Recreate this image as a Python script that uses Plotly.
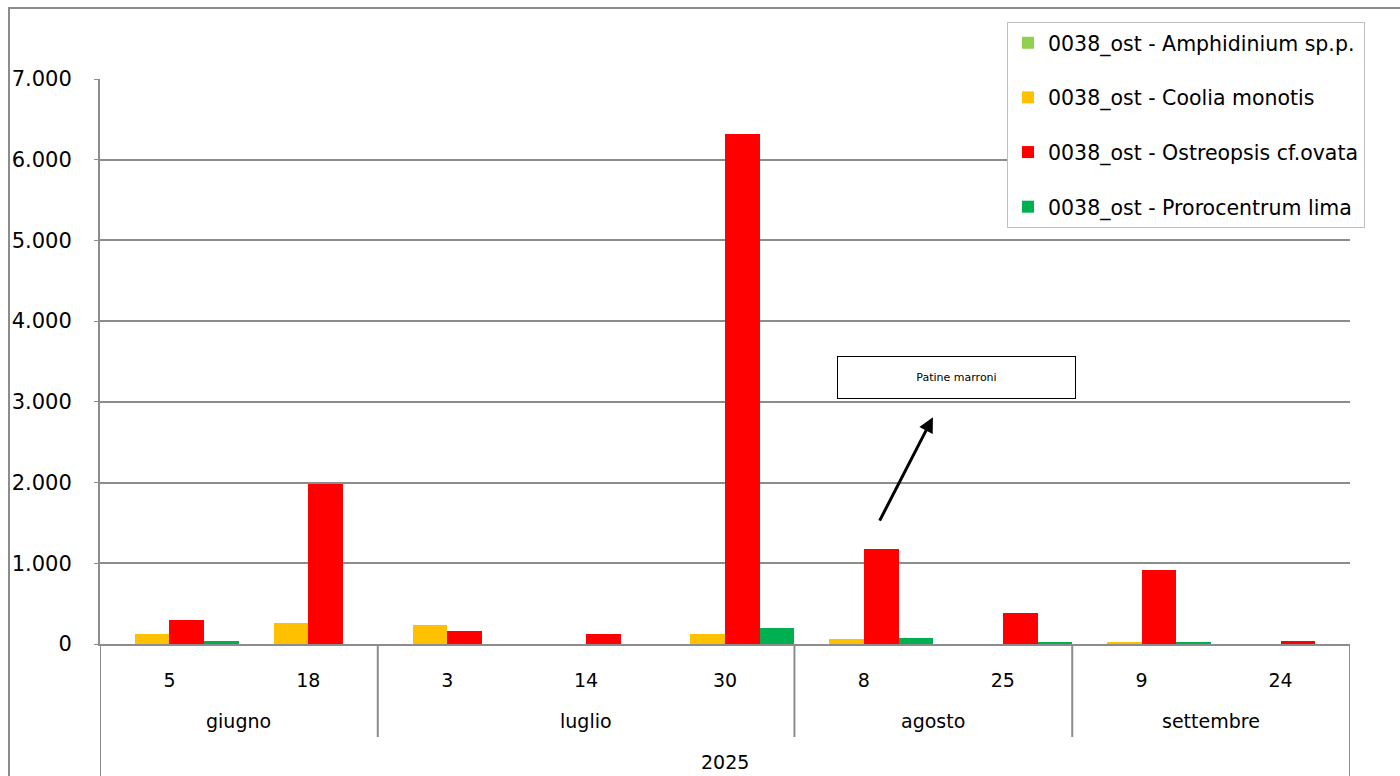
import plotly.graph_objects as go

# Sampling dates (day of month) grouped by month, year 2025
days = ["5", "18", "3", "14", "30", "8", "25", "9", "24"]
months = ["giugno", "giugno", "luglio", "luglio", "luglio", "agosto", "agosto", "settembre", "settembre"]
year = "2025"

# Cell abundances per species
amphidinium = [0, 0, 0, 0, 0, 0, 0, 0, 0]
coolia = [120, 260, 240, 0, 120, 60, 0, 20, 0]
ostreopsis = [300, 1980, 160, 120, 6320, 1180, 380, 920, 40]
prorocentrum = [40, 0, 0, 0, 195, 80, 20, 20, 0]

series = [
    ("0038_ost - Amphidinium sp.p.", amphidinium, "#92D050"),
    ("0038_ost - Coolia monotis", coolia, "#FFC000"),
    ("0038_ost - Ostreopsis cf.ovata", ostreopsis, "#FF0000"),
    ("0038_ost - Prorocentrum lima", prorocentrum, "#00B050"),
]

FONT = "DejaVu Sans"
GRID = "#8c8c8c"

idx = list(range(len(days)))

fig = go.Figure()
for i, (name, vals, col) in enumerate(series):
    fig.add_trace(go.Bar(
        x=idx, y=vals, name=name, marker_color=col,
        marker_line_width=0, legendgroup=f"g{i}",
    ))

# month spans from the category list
spans = []
start = 0
for i in range(1, len(months) + 1):
    if i == len(months) or months[i] != months[start]:
        spans.append((months[start], start, i - 1))
        start = i

plot_h = 565.0
annotations = []
shapes = []
for name, a, b in spans:
    annotations.append(dict(
        x=(a + b) / 2, y=-77 / plot_h, xref="x", yref="paper",
        text=name, showarrow=False, font=dict(family=FONT, size=19, color="#000"),
        yanchor="middle",
    ))
    if b < len(months) - 1:
        shapes.append(dict(type="line", xref="x", yref="paper",
                           x0=b + 0.5, x1=b + 0.5, y0=0, y1=-93 / plot_h,
                           line=dict(color=GRID, width=2)))

# outer left/right dividers down to the year row
for xv in (-0.5, len(days) - 0.5):
    shapes.append(dict(type="line", xref="x", yref="paper",
                       x0=xv, x1=xv, y0=0, y1=-0.3,
                       line=dict(color=GRID, width=2)))

annotations.append(dict(
    x=(len(days) - 1) / 2, y=-118 / plot_h, xref="x", yref="paper",
    text=year, showarrow=False, font=dict(family=FONT, size=19, color="#000"),
    yanchor="middle",
))

# callout box and arrow
annotations.append(dict(
    x=5.67, y=3300, xref="x", yref="y", text="Patine marroni",
    showarrow=False, font=dict(family=FONT, size=11, color="#000"),
    bordercolor="#000", borderwidth=1, bgcolor="#fff",
    width=235, height=39,
))
annotations.append(dict(
    x=5.497, y=2810, xref="x", yref="y", ax=5.108, ay=1510,
    axref="x", ayref="y", text="", showarrow=True,
    arrowhead=2, arrowsize=1, arrowwidth=3, arrowcolor="#000",
))

# chart frame
shapes.append(dict(type="rect", xref="paper", yref="paper",
                   x0=-0.0728, x1=1.2, y0=-0.5, y1=1.1257,
                   line=dict(color=GRID, width=2), layer="below"))

fig.update_layout(
    width=1400, height=776,
    margin=dict(l=100, r=50, t=79, b=132),
    paper_bgcolor="#fff", plot_bgcolor="#fff",
    barmode="group", bargap=0.0, bargroupgap=0.0,
    separators=",.",
    font=dict(family=FONT, size=19, color="#000"),
    showlegend=True,
    legend=dict(
        x=0.7256, y=1.101, xanchor="left", yanchor="top",
        bgcolor="#fff", bordercolor="#bfbfbf", borderwidth=1,
        font=dict(family=FONT, size=20.5, color="#000"),
        tracegroupgap=25, traceorder="grouped",
        itemwidth=30,
    ),
    annotations=annotations,
    shapes=shapes,
)

fig.update_xaxes(
    range=[-0.5, len(days) - 0.5],
    tickmode="array", tickvals=idx, ticktext=days,
    ticks="", showgrid=False, zeroline=False,
    showline=True, linecolor=GRID, linewidth=2,
    ticklabelstandoff=18,
    tickfont=dict(family=FONT, size=19, color="#000"),
)
fig.update_yaxes(
    range=[0, 7000], dtick=1000, tickformat=",.0f",
    showgrid=True, gridcolor=GRID, gridwidth=1.5,
    zeroline=False, showline=True, linecolor=GRID, linewidth=2,
    ticks="outside", ticklen=4, tickcolor=GRID,
    ticklabelstandoff=18,
    tickfont=dict(family=FONT, size=21, color="#000"),
)

fig.write_html("out.html")
